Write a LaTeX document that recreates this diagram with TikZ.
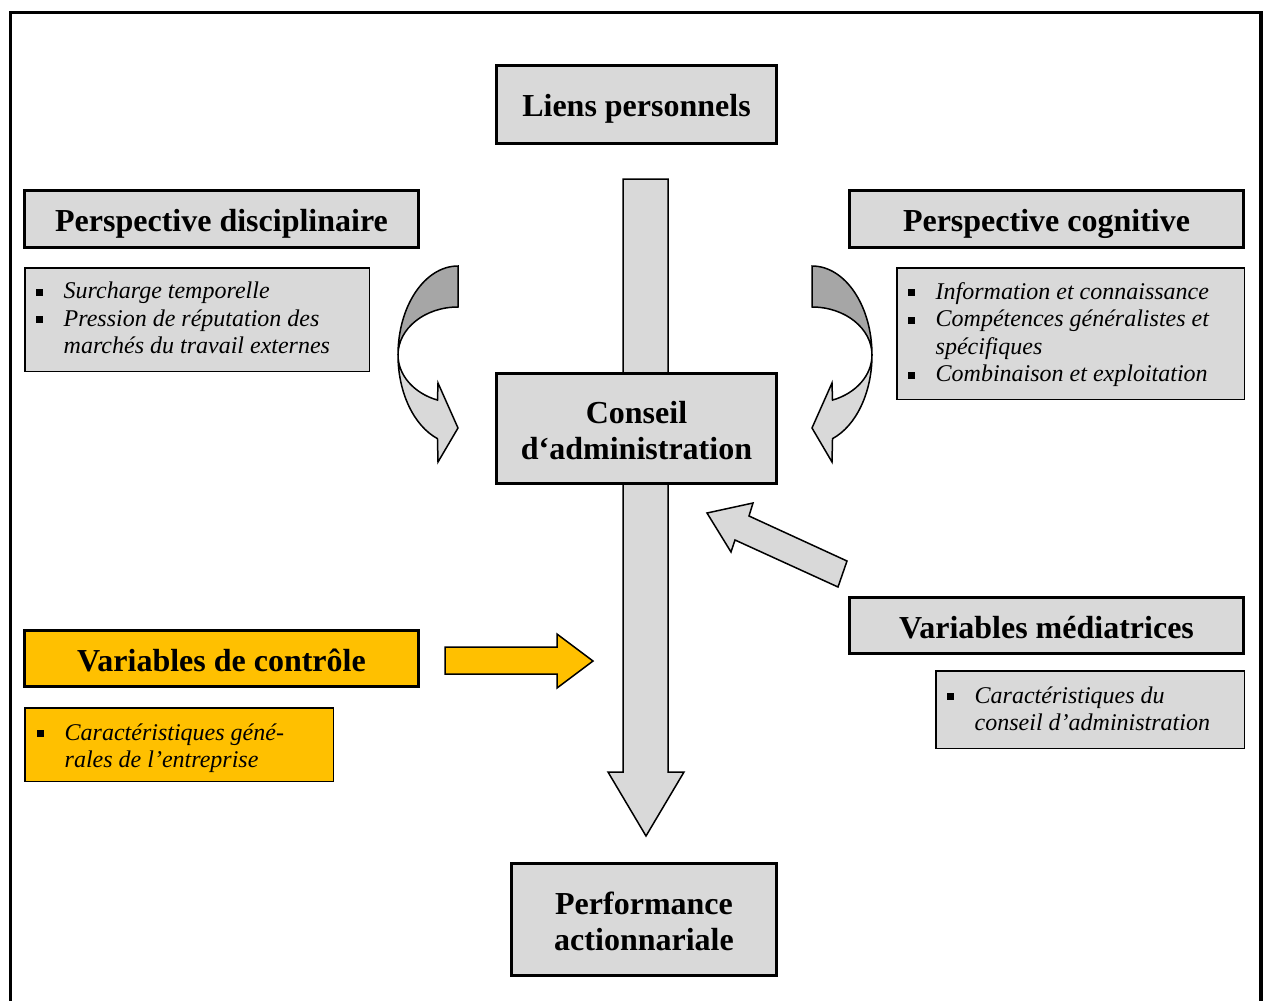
\documentclass[tikz,border=0pt]{standalone}
\usepackage{fontspec}
\setmainfont{Liberation Serif}
\definecolor{boxgray}{HTML}{D9D9D9}
\definecolor{darkgray}{HTML}{A6A6A6}
\definecolor{ctrlyellow}{HTML}{FFC000}
% square bullet followed by the hanging gap before the item text
\newcommand\sqbul{\makebox[27.5pt][l]{\rule[3pt]{7pt}{7pt}}}
\newcommand\nobul{\hspace*{27.5pt}}
% two centred lines of a heading; first baseline 5.5pt above the box centre
\newcommand\twolines[2]{\raisebox{5.5pt}[0pt][0pt]{\begin{tabular}[t]{@{}c@{}}#1\\#2\end{tabular}}}
\begin{document}
\begin{tikzpicture}[x=1pt,y=-1pt,
  headbox/.style={draw, line width=3pt, fill=boxgray, inner sep=0pt,
    font=\fontsize{32}{36.5}\selectfont\bfseries},
  head/.style={headbox, text height=26pt, text depth=1pt},
  listbox/.style={draw, line width=1.5pt, fill=boxgray, inner sep=0pt},
  item/.style={anchor=base west, inner sep=0pt,
    font=\fontsize{24}{27.5}\selectfont\itshape},
  blockarrow/.style={draw, line width=1.5pt, fill=boxgray, line join=miter},
]
\clip (0,0) rectangle (1264,1001);

% outer frame (open at the bottom edge of the page)
\draw[line width=3.5pt] (10.5,1010) -- (10.5,12.5) -- (1261,12.5) -- (1261,1010);

% main vertical block arrow, passing behind the board node
\draw[blockarrow] (623,179) -- (668,179) -- (668,772) -- (684,772)
  -- (646,836) -- (608,772) -- (623,772) -- cycle;

% heading boxes
\node[head, text depth=3pt, minimum width=280, minimum height=78] (liens) at (636.5,104.5) {Liens personnels};
\node[head, minimum width=394, minimum height=57] (disc) at (221.5,219) {Perspective disciplinaire};
\node[head, minimum width=394, minimum height=57] (cogn) at (1046.5,219) {Perspective cognitive};
\node[headbox, minimum width=280, minimum height=110] (conseil) at (636.5,428.5) {\twolines{Conseil}{d‘administration}};
\node[headbox, minimum width=265, minimum height=112] (perf) at (644,919.5) {\twolines{Performance}{actionnariale}};
\node[head, minimum width=394, minimum height=56] (medi) at (1046.5,625.5) {Variables médiatrices};
\node[head, minimum width=394, minimum height=56, fill=ctrlyellow] (ctrl) at (221.5,658.5) {Variables de contrôle};

% item lists
\node[listbox, minimum width=344.5, minimum height=103.5] (dlist) at (197,319.5) {};
\node[item] (d1) at (36,298.5) {\sqbul Surcharge temporelle};
\node[item] (d2) at (36,326) {\sqbul Pression de réputation des};
\node[item] (d3) at (36,353.5) {\nobul marchés du travail externes};

\node[listbox, minimum width=347.5, minimum height=131.5] (clist) at (1070.5,333.5) {};
\node[item] (c1) at (908,299) {\sqbul Information et connaissance};
\node[item] (c2) at (908,326.5) {\sqbul Compétences généralistes et};
\node[item] (c3) at (908,354) {\nobul spécifiques};
\node[item] (c4) at (908,381.5) {\sqbul Combinaison et exploitation};

\node[listbox, minimum width=308.5, minimum height=77.5] (mlist) at (1090,709.5) {};
\node[item] (m1) at (947,703) {\sqbul Caractéristiques du};
\node[item] (m2) at (947,730.5) {\nobul conseil d’administration};

\node[listbox, minimum width=308.5, minimum height=73.5, fill=ctrlyellow] (vlist) at (179,744.5) {};
\node[item] (v1) at (37,740) {\sqbul Caractéristiques géné-};
\node[item] (v2) at (37,767.5) {\nobul rales de l’entreprise};

% control variables arrow
\draw[blockarrow, fill=ctrlyellow] (445,647) -- (557,647) -- (557,634) -- (593,661)
  -- (557,688) -- (557,674) -- (445,674) -- cycle;

% mediating variables arrow
\draw[blockarrow] (707,513) -- (753,503) -- (749,516) -- (847,561)
  -- (838,587) -- (735,540) -- (731,552) -- cycle;

% curved arrows of the two perspectives (drawn around their own centre)
\newcommand\curvedblock{%
  \draw[line width=1.5pt, fill=darkgray, line join=miter]
    (0,-89) arc[start angle=-90, end angle=-180, x radius=60, y radius=89]
    arc[start angle=180, end angle=270, x radius=60, y radius=48] -- cycle;
  \draw[line width=1.5pt, fill=boxgray, line join=miter]
    (-60,0) arc[start angle=180, end angle=110, x radius=60, y radius=89]
    -- (-20,107) -- (0,73) -- (-20,28) -- (-20.5,45.1)
    arc[start angle=110, end angle=180, x radius=60, y radius=48] -- cycle;}
\begin{scope}[shift={(458,355)}]
  \curvedblock
\end{scope}
\begin{scope}[shift={(812,355)}, xscale=-1]
  \curvedblock
\end{scope}
\end{tikzpicture}
\end{document}
